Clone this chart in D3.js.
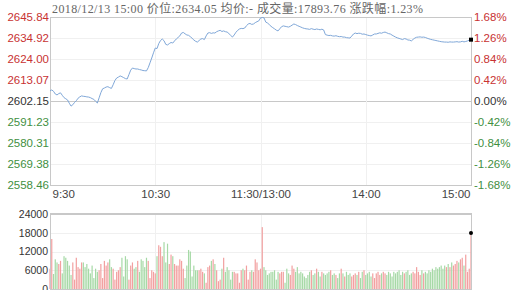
<!DOCTYPE html>
<html>
<head>
    <meta charset="utf-8"/>
    <style>
        body{ margin:0; background:#fff; }
        svg{ display:block; }
        .axis path, .axis line{ display:none; }
        .axis text{ font-family:"Liberation Sans", Arial, sans-serif; font-size:11.5px; }
        .grid line{ stroke:#f0f0f0; }
        .frame{ fill:none; stroke:#c8c8c8; }
    </style>
</head>
<body>
<svg id="chart"></svg>
<script src="https://d3js.org/d3.v7.min.js"></script>
<script>
    // Header values
    const TITLE = '2018/12/13 15:00 价位:2634.05 均价:- 成交量:17893.76 涨跌幅:1.23%';
    const PRE_CLOSE = 2602.15;
    // Axis labels
    const priceTicks = [2645.84, 2634.92, 2624.00, 2613.07, 2602.15, 2591.23, 2580.31, 2569.38, 2558.46];
    const pctTicks = ['1.68%', '1.26%', '0.84%', '0.42%', '0.00%', '-0.42%', '-0.84%', '-1.26%', '-1.68%'];
    const timeLabels = ['9:30', '10:30', '11:30/13:00', '14:00', '15:00'];
    const timeMinutes = [0, 60, 120, 180, 240];
    const volumeTicks = [0, 6000, 12000, 18000, 24000];
    // Minute prices, 9:30-11:30 then 13:00-15:00 (241 points)
    const prices = [
        2607.4, 2607.9, 2607.2, 2605.8, 2605.3, 2606.0, 2606.4, 2605.1, 2603.9, 2603.3,
        2602.7, 2601.0, 2599.5, 2600.2, 2601.4, 2602.3, 2603.6, 2604.3, 2604.8, 2604.6,
        2604.5, 2604.3, 2604.2, 2603.9, 2603.4, 2603.0, 2602.0, 2601.1, 2603.8, 2606.5,
        2608.5, 2608.9, 2609.4, 2609.6, 2609.1, 2608.7, 2610.6, 2612.8, 2614.1, 2614.6,
        2615.2, 2614.8, 2614.3, 2613.8, 2613.6, 2615.9, 2618.2, 2619.3, 2619.0, 2618.8,
        2618.8, 2618.5, 2618.3, 2618.0, 2617.9, 2617.8, 2619.5, 2622.0, 2624.5, 2627.2,
        2629.7, 2629.4, 2632.0, 2633.6, 2634.4, 2633.5, 2631.6, 2631.3, 2632.0, 2632.6,
        2632.3, 2633.4, 2634.4, 2635.2, 2636.0, 2637.5, 2637.8, 2637.1, 2636.5, 2636.3,
        2635.6, 2634.8, 2633.9, 2633.2, 2632.8, 2633.6, 2634.4, 2634.6, 2634.1, 2636.0,
        2637.5, 2637.7, 2637.3, 2637.6, 2637.5, 2638.2, 2638.6, 2638.9, 2638.3, 2638.6,
        2638.2, 2638.0, 2637.2, 2636.3, 2635.4, 2636.5, 2637.9, 2638.9, 2639.6, 2639.9,
        2639.8, 2640.1, 2641.3, 2642.2, 2642.5, 2642.0, 2642.2, 2642.9, 2643.4, 2643.8,
        2645.3, 2645.6, 2645.4, 2643.2, 2642.7, 2641.9, 2641.0, 2640.3, 2639.7, 2639.0,
        2638.6, 2639.7, 2640.8, 2641.2, 2641.0, 2640.8, 2640.6, 2641.0, 2641.6, 2642.2,
        2641.9, 2641.4, 2641.0, 2640.6, 2640.2, 2639.9, 2639.7, 2639.6, 2639.4, 2639.8,
        2639.5, 2639.3, 2639.6, 2639.4, 2639.2, 2639.5, 2639.1, 2636.7, 2636.4, 2636.2,
        2636.3, 2636.0, 2635.9, 2636.1, 2635.8, 2635.6, 2635.7, 2635.4, 2635.4, 2635.1,
        2635.0, 2634.9, 2635.9, 2637.0, 2637.5, 2637.2, 2637.4, 2637.3, 2636.9, 2637.0,
        2636.7, 2636.4, 2636.2, 2636.0, 2636.5, 2637.0, 2637.0, 2637.3, 2637.6, 2637.4,
        2637.8, 2638.0, 2637.6, 2637.2, 2637.0, 2636.4, 2635.9, 2635.4, 2635.0, 2634.7,
        2634.4, 2634.1, 2634.6, 2634.4, 2633.9, 2633.8, 2633.4, 2634.2, 2634.9, 2635.3,
        2635.4, 2635.5, 2635.3, 2635.4, 2635.2, 2634.8, 2634.5, 2634.2, 2634.0, 2633.8,
        2633.6, 2633.4, 2633.2, 2633.0, 2632.9, 2632.8, 2632.8, 2632.7, 2632.9, 2632.8,
        2632.8, 2632.9, 2633.0, 2632.8, 2632.9, 2633.2, 2632.9, 2633.1, 2633.4, 2633.8,
        2634.05
    ];
    // Minute volumes
    const volumes = [
        6500, 16000, 4800, 9500, 8500, 8000, 9000, 5000, 10500, 10000,
        9000, 7500, 4500, 8500, 3000, 10000, 7000, 6500, 8500, 8500,
        7000, 8000, 6500, 5000, 7500, 3500, 6500, 5500, 6000, 8000,
        3500, 9000, 7500, 8500, 9500, 7000, 6500, 3000, 5500, 6000,
        7000, 10000, 4000, 10500, 9500, 3000, 7500, 8500, 6500, 7000,
        9000, 5500, 9500, 9000, 7000, 10000, 9000, 3500, 6000, 5500,
        5000, 10500, 14000, 13500, 10500, 15000, 8500, 14500, 8000, 11000,
        10500, 8000, 7500, 7500, 9500, 9000, 6500, 3500, 7500, 12500,
        12000, 4000, 7500, 6000, 6000, 6000, 6500, 5500, 5000, 2000,
        7000, 7500, 9000, 9500, 8000, 6000, 2500, 3000, 6500, 10000,
        5500, 7000, 6000, 3000, 5500, 5500, 5000, 5000, 2000, 6000,
        6500, 6000, 7500, 3000, 5500, 6000, 5500, 9500, 8500, 6000,
        6500, 19800, 7000, 6000, 4500, 5000, 5500, 5500, 6000, 3000,
        5500, 5000, 5500, 5500, 2000, 6500, 5000, 4500, 7500, 6500,
        5500, 7000, 5000, 5500, 5000, 4000, 3500, 4500, 5500, 6000,
        4500, 5000, 6500, 5500, 4000, 5500, 5000, 4500, 5000, 5500,
        6000, 4500, 5000, 4500, 3500, 5000, 6500, 5000, 4000, 5500,
        4500, 5000, 4000, 4500, 5000, 4500, 5500, 3500, 5500, 6000,
        4500, 5000, 5500, 4000, 5000, 3500, 5000, 5500, 4500, 5000,
        5500, 5000, 4500, 5500, 5000, 4000, 5500, 5000, 5500, 6000,
        4500, 5500, 5000, 5500, 6000, 4500, 5000, 5500, 5000, 7000,
        5500, 4500, 6000, 5000, 5500, 5000, 6000, 5500, 6500, 6000,
        7000, 6500, 7000, 7500, 6500, 7500, 7000, 8000, 7000, 8500,
        7500, 8000, 9000, 8500, 9500, 10000, 7500, 11000, 5500, 6500,
        17893.76
    ];

    var width = 517, height = 290;
    var left = 50, right = 471;
    var priceTop = 17, priceBottom = 185;
    var volTop = 214, volBottom = 289;
    var RED = '#c83232', GREEN = '#3f8f3f';

    var svg = d3.select('#chart').attr('width', width).attr('height', height);

    var x = d3.scaleLinear().domain([0, 240]).range([left, right]);
    var y = d3.scaleLinear().domain([priceTicks[priceTicks.length - 1], priceTicks[0]]).range([priceBottom, priceTop]);
    var yVol = d3.scaleLinear().domain([0, 24000]).range([volBottom, volTop]);

    function tickColor(v){
        if (Math.abs(v - PRE_CLOSE) < 0.001) return '#333';
        return v > PRE_CLOSE ? RED : GREEN;
    }

    // Title line
    svg.append('text')
        .attr('x', 52).attr('y', 13)
        .attr('textLength', 371).attr('lengthAdjust', 'spacing')
        .style('font-family', '"Liberation Serif", "Noto Sans CJK SC", serif')
        .style('font-size', '12px')
        .style('fill', '#666')
        .text(TITLE);

    // Price grid
    svg.append('g').attr('class', 'grid')
        .selectAll('line').data(priceTicks).enter().append('line')
        .attr('x1', left).attr('x2', right)
        .attr('y1', function(d){ return Math.round(y(d)) + 0.5; })
        .attr('y2', function(d){ return Math.round(y(d)) + 0.5; })
        .style('stroke', function(d){ return Math.abs(d - PRE_CLOSE) < 0.001 ? '#c8c8c8' : '#f0f0f0'; });
    svg.append('g').attr('class', 'grid')
        .selectAll('line').data(timeMinutes.slice(1, 4)).enter().append('line')
        .attr('x1', function(d){ return Math.round(x(d)) + 0.5; })
        .attr('x2', function(d){ return Math.round(x(d)) + 0.5; })
        .attr('y1', priceTop).attr('y2', priceBottom);
    svg.append('rect').attr('class', 'frame')
        .attr('x', left + 0.5).attr('y', priceTop + 0.5)
        .attr('width', right - left).attr('height', priceBottom - priceTop);

    // Left axis (price) and right axis (percent)
    svg.append('g').attr('class', 'axis')
        .attr('transform', 'translate(' + (left + 1) + ',0)')
        .call(d3.axisLeft(y).tickValues(priceTicks).tickSize(0).tickPadding(2)
            .tickFormat(function(d){ return d.toFixed(2); }))
        .selectAll('text')
        .style('fill', function(d){ return tickColor(d); });
    svg.append('g').attr('class', 'axis')
        .attr('transform', 'translate(' + (right + 2) + ',0)')
        .call(d3.axisRight(y).tickValues(priceTicks).tickSize(0).tickPadding(1)
            .tickFormat(function(d, i){ return pctTicks[i]; }))
        .selectAll('text')
        .style('fill', function(d){ return tickColor(d); });

    // Time axis
    svg.append('g').attr('class', 'axis')
        .attr('transform', 'translate(0,' + priceBottom + ')')
        .call(d3.axisBottom(x).tickValues(timeMinutes).tickSize(0).tickPadding(5)
            .tickFormat(function(d, i){ return timeLabels[i]; }))
        .selectAll('text')
        .style('fill', '#444')
        .style('text-anchor', function(d, i){ return i === 0 ? 'start' : (i === 4 ? 'end' : 'middle'); })
        .attr('dx', function(d, i){ return i === 0 ? 2 : (i === 4 ? -1 : 0); });

    // Price line
    var line = d3.line()
        .x(function(d, i){ return x(i); })
        .y(function(d){ return y(d); });
    svg.append('path')
        .datum(prices)
        .attr('d', line)
        .style('fill', 'none')
        .style('stroke', '#7fa7d8')
        .style('stroke-width', 1);
    svg.append('rect')
        .attr('x', x(240) - 2).attr('y', y(prices[240]) - 2)
        .attr('width', 4).attr('height', 4)
        .style('fill', '#000');

    // Volume grid and frame
    svg.append('g').attr('class', 'grid')
        .selectAll('line').data(volumeTicks.slice(1, 4)).enter().append('line')
        .attr('x1', left).attr('x2', right)
        .attr('y1', function(d){ return Math.round(yVol(d)) + 0.5; })
        .attr('y2', function(d){ return Math.round(yVol(d)) + 0.5; });
    svg.append('g').attr('class', 'grid')
        .selectAll('line').data(timeMinutes.slice(1, 4)).enter().append('line')
        .attr('x1', function(d){ return Math.round(x(d)) + 0.5; })
        .attr('x2', function(d){ return Math.round(x(d)) + 0.5; })
        .attr('y1', volTop).attr('y2', volBottom);

    // Volume bars, coloured by minute price change
    svg.append('g')
        .selectAll('rect').data(volumes).enter().append('rect')
        .attr('x', function(d, i){ return x(i) - 0.6; })
        .attr('y', function(d){ return yVol(d); })
        .attr('width', 1.2)
        .attr('height', function(d){ return volBottom - yVol(d); })
        .style('fill', function(d, i){
            var prev = i === 0 ? PRE_CLOSE : prices[i - 1];
            return prices[i] >= prev ? '#f2a0a0' : '#a6d9a6';
        });

    svg.append('line')
        .attr('x1', left).attr('x2', right + 1)
        .attr('y1', volTop).attr('y2', volTop)
        .style('stroke', '#c8c8c8').style('stroke-width', 2);
    svg.append('line')
        .attr('x1', left + 0.5).attr('x2', left + 0.5)
        .attr('y1', volTop).attr('y2', volBottom)
        .style('stroke', '#c8c8c8');
    svg.append('line')
        .attr('x1', right + 0.5).attr('x2', right + 0.5)
        .attr('y1', volTop).attr('y2', volBottom)
        .style('stroke', '#c8c8c8');
    svg.append('line')
        .attr('x1', left).attr('x2', right + 1)
        .attr('y1', volBottom + 0.5).attr('y2', volBottom + 0.5)
        .style('stroke', '#c8c8c8');

    svg.append('circle')
        .attr('cx', x(240)).attr('cy', yVol(volumes[240]))
        .attr('r', 2)
        .style('fill', '#000');

    // Volume axis
    svg.append('g').attr('class', 'axis')
        .attr('transform', 'translate(' + (left - 1) + ',0)')
        .call(d3.axisLeft(yVol).tickValues(volumeTicks).tickSize(0).tickPadding(1))
        .selectAll('text')
        .style('font-size', '10.5px')
        .style('fill', '#333')
        .text(function(d){ return d; });
</script>
</body>
</html>
